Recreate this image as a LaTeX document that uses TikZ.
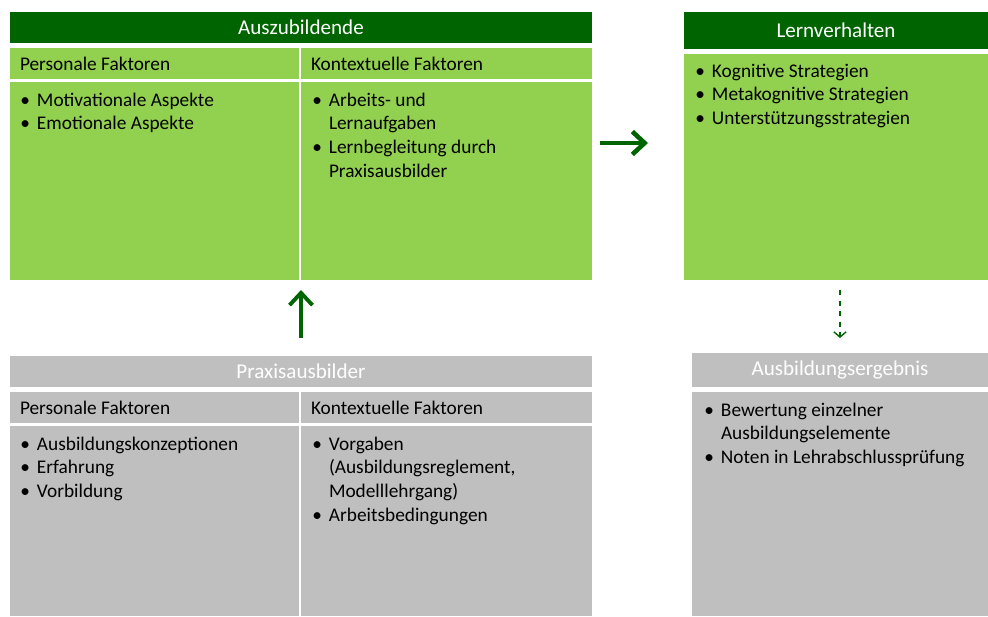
\documentclass[tikz,border=0pt]{standalone}
\usepackage{fontspec}
\setmainfont{Carlito}
\usetikzlibrary{positioning}
\usetikzlibrary{arrows.meta}
\definecolor{dgreen}{RGB}{0,100,0}
\definecolor{lgreen}{RGB}{146,208,80}
\definecolor{lgray}{RGB}{191,191,191}
\newcommand{\px}{0.02cm}
\newcommand{\itemlist}[1]{\begin{tabular}{@{}l@{\hspace{4pt}}l@{}}#1\end{tabular}}

\begin{document}
\begin{tikzpicture}[x=0.02cm,y=-0.02cm]
		\tikzset{>={Straight Barb[length=7pt,width=13pt]}}
		\tikzset{
			box/.style 2 args={anchor=north west, inner sep=0pt, outer sep=0pt,
				minimum width=#1*\px, minimum height=#2*\px},
			head/.style={text=white, font=\fontsize{12}{14}\selectfont},
			row/.style={align=flush left, text width=#1*\px-20*\px, inner xsep=10*\px,
				font=\fontsize{11}{13.6}\selectfont},
			list/.style={anchor=north west, inner sep=0pt, align=left,
				font=\fontsize{11}{13.6}\selectfont},
			bigarrow/.style={->, draw=dgreen, line width=2.6pt},
		}
		\useasboundingbox (0,0) rectangle (988,616);
		
		% Auszubildende
		\node[box={582}{31}, fill=dgreen, head] (azHead) at (10,12) {Auszubildende};
		\node[box={289}{31}, fill=lgreen, row=289] (azP) at (10,48) {Personale Faktoren};
		\node[box={291}{31}, fill=lgreen, row=291] (azK) at (301,48) {Kontextuelle Faktoren};
		\node[box={289}{198}, fill=lgreen] (azPbody) at (10,82) {};
		\node[box={291}{198}, fill=lgreen] (azKbody) at (301,82) {};
		\node[list] (azPtxt) at (20,89) {\itemlist{\textbullet & Motivationale Aspekte\\
			\textbullet & Emotionale Aspekte}};
		\node[list] (azKtxt) at (312,89) {\itemlist{\textbullet & Arbeits- und\\
			& Lernaufgaben\\
			\textbullet & Lernbegleitung durch\\
			& Praxisausbilder}};
		
		% Lernverhalten
		\node[box={304}{37}, fill=dgreen, head] (lvHead) at (684,12) {Lernverhalten};
		\node[box={304}{226}, fill=lgreen] (lvBody) at (684,54) {};
		\node[list] (lvTxt) at (695,60) {\itemlist{\textbullet & Kognitive Strategien\\
			\textbullet & Metakognitive Strategien\\
			\textbullet & Unterstützungsstrategien}};
		
		% Praxisausbilder
		\node[box={582}{31}, fill=lgray, head] (prHead) at (10,356) {Praxisausbilder};
		\node[box={289}{31}, fill=lgray, row=289] (prP) at (10,392) {Personale Faktoren};
		\node[box={291}{31}, fill=lgray, row=291] (prK) at (301,392) {Kontextuelle Faktoren};
		\node[box={289}{190}, fill=lgray] (prPbody) at (10,426) {};
		\node[box={291}{190}, fill=lgray] (prKbody) at (301,426) {};
		\node[list] (prPtxt) at (20,433) {\itemlist{\textbullet & Ausbildungskonzeptionen\\
			\textbullet & Erfahrung\\
			\textbullet & Vorbildung}};
		\node[list] (prKtxt) at (312,433) {\itemlist{\textbullet & Vorgaben\\
			& (Ausbildungsreglement,\\
			& Modelllehrgang)\\
			\textbullet & Arbeitsbedingungen}};
		
		% Ausbildungsergebnis
		\node[box={296}{34}, fill=lgray, head] (erHead) at (692,353) {Ausbildungsergebnis};
		\node[box={296}{224}, fill=lgray] (erBody) at (692,392) {};
		\node[list] (erTxt) at (704,399) {\itemlist{\textbullet & Bewertung einzelner\\
			& Ausbildungselemente\\
			\textbullet & Noten in Lehrabschlussprüfung}};
		
		% Pfeile
		\coordinate (azOut) at (600,143);
		\coordinate (lvIn) at (648,143);
		\draw[bigarrow] (azOut) -- (lvIn);
		\draw[bigarrow, line width=2.2pt, shorten <=18*\px, shorten >=10*\px]
			(prHead.north -| azKbody.west) -- (azKbody.south west);
		\draw[->, draw=dgreen, dashed, line width=0.8pt, >={Straight Barb[length=3pt,width=7pt]},
			shorten <=10*\px, shorten >=15*\px] (erHead.north |- lvBody.south) -- (erHead.north);
\end{tikzpicture}
\end{document}
